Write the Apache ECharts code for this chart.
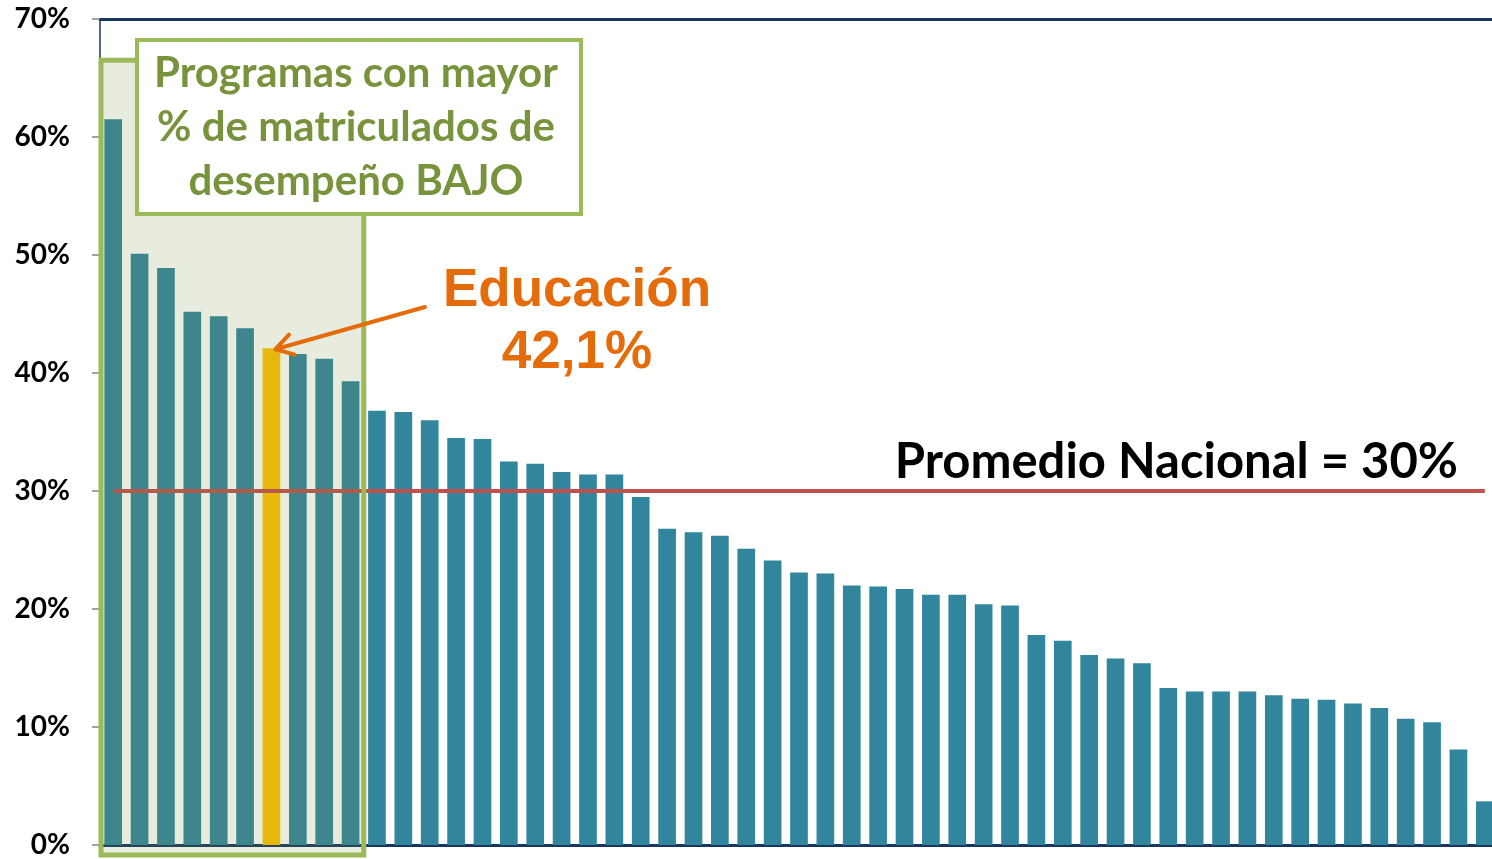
<!DOCTYPE html>
<html>
<head>
<meta charset="utf-8">
<script src="https://cdn.jsdelivr.net/npm/echarts@6/dist/echarts.min.js"></script>
<style>
  html, body { margin: 0; padding: 0; background: #fff; }
  #chart { width: 1492px; height: 859px; }
</style>
</head>
<body>
<div id="chart"></div>
<script>
// programas ordenados por % de matriculados con desempeño bajo
const programas = Array.from({ length: 53 }, (_, i) => 'P' + (i + 1))
const porcentajes = [
  61.5, 50.1, 48.9, 45.2, 44.8, 43.8, 42.1, 41.6, 41.2, 39.3,
  36.8, 36.7, 36.0, 34.5, 34.4, 32.5, 32.3, 31.6, 31.4, 31.4,
  29.5, 26.8, 26.5, 26.2, 25.1, 24.1, 23.1, 23.0, 22.0, 21.9,
  21.7, 21.2, 21.2, 20.4, 20.3, 17.8, 17.3, 16.1, 15.8, 15.4,
  13.3, 13.0, 13.0, 13.0, 12.7, 12.4, 12.3, 12.0, 11.6, 10.7,
  10.4, 8.1, 3.7
]
const yTicks = [0, 10, 20, 30, 40, 50, 60, 70]
const promedioNacional = 30
const idxEducacion = 6
const nDestacados = 10 // programas dentro del recuadro

const chart = echarts.init(document.getElementById('chart'))

const options = {
  backgroundColor: '#ffffff',
  textStyle: { fontFamily: 'Lato' },
  animation: false,
  grid: {
    left: 100, width: 1398, top: 19, bottom: 14,
    containLabel: false, outerBoundsMode: 'none'
  },
  xAxis: [
    {
      type: 'category',
      data: programas,
      axisLine: { lineStyle: { color: '#17375E', width: 3 } },
      axisTick: { show: false },
      axisLabel: { show: false }
    },
    {
      type: 'category',
      position: 'top',
      data: programas,
      axisLine: { lineStyle: { color: '#17375E', width: 3 } },
      axisTick: { show: false },
      axisLabel: { show: false }
    }
  ],
  yAxis: {
    type: 'value',
    min: yTicks[0],
    max: yTicks[yTicks.length - 1],
    interval: 10,
    splitLine: { show: false },
    axisLine: { show: true, lineStyle: { color: '#17375E', width: 1.5 } },
    axisTick: { show: true, length: 8, lineStyle: { color: '#868686', width: 1.5 } },
    axisLabel: {
      margin: 30,
      color: '#000',
      fontWeight: 'bold',
      fontSize: 28,
      fontFamily: 'Lato',
      formatter: '{value}%'
    }
  },
  series: [
    {
      type: 'bar',
      barCategoryGap: '33%',
      data: porcentajes.map((v, i) => ({
        value: v,
        itemStyle: { color: i === idxEducacion ? '#FFC000' : '#31859C' }
      })),
      markLine: {
        symbol: 'none',
        silent: true,
        label: { show: false },
        lineStyle: { color: '#C0504D', width: 4, type: 'solid' },
        data: [[
          { coord: [0, promedioNacional] },
          { coord: [porcentajes.length - 1, promedioNacional] }
        ]]
      }
    }
  ]
}
chart.setOption(options)

// anotaciones, posicionadas a partir de las escalas del gráfico
const px = (i, v) => chart.convertToPixel({ xAxisIndex: 0, yAxisIndex: 0 }, [i, v])
const band = px(1, 0)[0] - px(0, 0)[0]
const x0 = px(0, 0)[0] - band / 2
const x1 = px(nDestacados - 1, 0)[0] + band / 2
const yTop = px(0, 66.5)[1]
const yBase = px(0, 0)[1]

const tip = px(idxEducacion, porcentajes[idxEducacion])
tip[0] += 4
tip[1] += 1
const tail = [425, 307]
const ang = Math.atan2(tail[1] - tip[1], tail[0] - tip[0])
const hl = 20
const wing1 = [tip[0] + hl * Math.cos(ang + 0.55), tip[1] + hl * Math.sin(ang + 0.55)]
const wing2 = [tip[0] + hl * Math.cos(ang - 0.55), tip[1] + hl * Math.sin(ang - 0.55)]

chart.setOption({
  graphic: [
    {
      type: 'rect',
      z: 100,
      shape: { x: x0 + 1, y: yTop, width: x1 - x0 - 1, height: yBase - yTop + 10 },
      style: { fill: 'rgba(119,143,67,0.17)', stroke: '#9BBB59', lineWidth: 5 }
    },
    {
      type: 'rect',
      z: 101,
      shape: { x: 137, y: 40, width: 444, height: 174 },
      style: { fill: '#ffffff', stroke: '#9BBB59', lineWidth: 4 }
    },
    {
      type: 'text',
      z: 102,
      style: {
        x: 356, y: 127,
        text: 'Programas con mayor\n% de matriculados de\ndesempeño BAJO',
        fill: '#77933C',
        font: 'bold 42px Lato',
        lineHeight: 54,
        align: 'center',
        verticalAlign: 'middle'
      }
    },
    {
      type: 'polyline',
      z: 103,
      shape: { points: [tail, tip] },
      style: { stroke: '#E46C0A', lineWidth: 4, lineCap: 'round' }
    },
    {
      type: 'polyline',
      z: 103,
      shape: { points: [wing1, tip, wing2] },
      style: { stroke: '#E46C0A', lineWidth: 4, lineCap: 'round', lineJoin: 'round', fill: null }
    },
    {
      type: 'text',
      z: 103,
      style: {
        x: 577, y: 322,
        text: 'Educación\n42,1%',
        fill: '#E46C0A',
        font: 'bold 53px "Liberation Sans"',
        lineHeight: 62,
        align: 'center',
        verticalAlign: 'middle'
      }
    },
    {
      type: 'text',
      z: 103,
      style: {
        x: 1458, y: 462,
        text: 'Promedio Nacional = 30%',
        fill: '#000000',
        font: 'bold 49px Lato',
        align: 'right',
        verticalAlign: 'middle'
      }
    }
  ]
})
</script>
</body>
</html>
